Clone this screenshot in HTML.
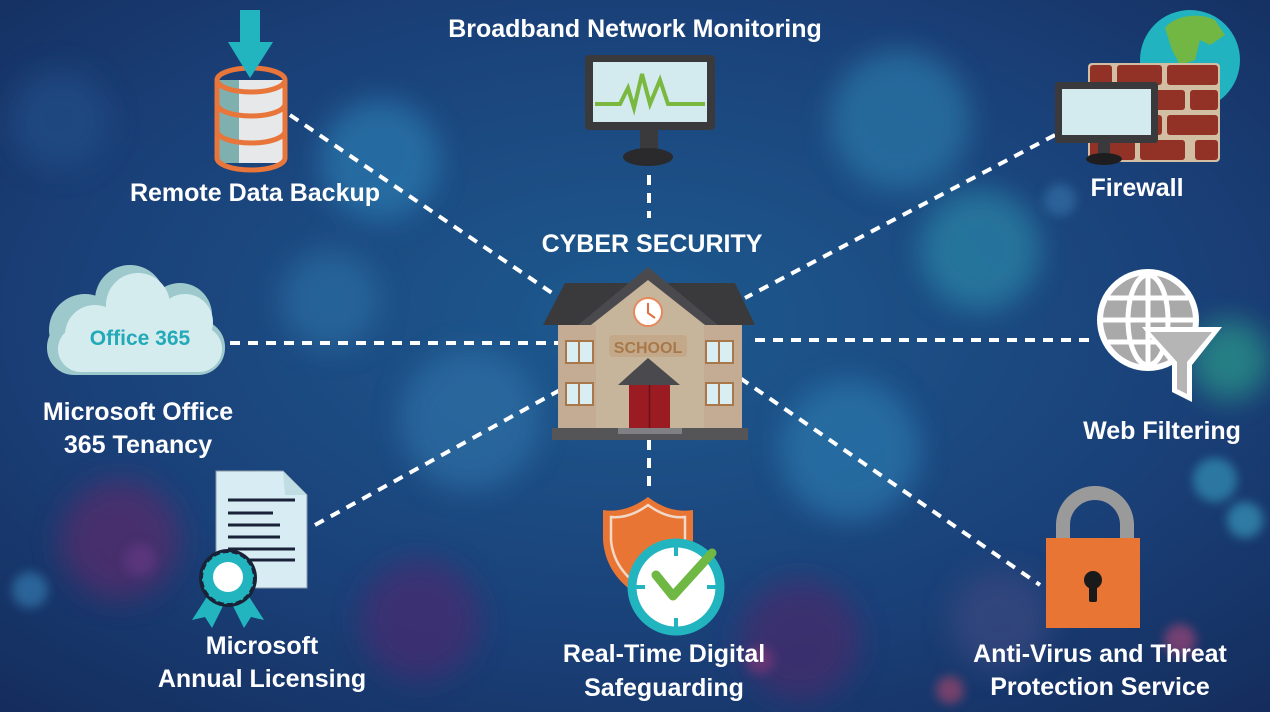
<!DOCTYPE html>
<html><head><meta charset="utf-8">
<style>
html,body{margin:0;padding:0;}
body{width:1270px;height:712px;overflow:hidden;background:#17396a;}
svg{display:block;}
text{font-family:"Liberation Sans",sans-serif;font-weight:bold;}
</style></head><body>
<svg width="1270" height="712" viewBox="0 0 1270 712" xmlns="http://www.w3.org/2000/svg">
<defs>
<radialGradient id="bg" cx="0.5" cy="0.45" r="0.75">
<stop offset="0" stop-color="#1d5a8f"/><stop offset="0.6" stop-color="#1a4078"/><stop offset="1" stop-color="#142c5c"/>
</radialGradient>
<filter id="blur" x="-50%" y="-50%" width="200%" height="200%"><feGaussianBlur stdDeviation="14"/></filter>
<filter id="blur2" x="-50%" y="-50%" width="200%" height="200%"><feGaussianBlur stdDeviation="5"/></filter>
</defs>
<rect width="1270" height="712" fill="url(#bg)"/>
<g filter="url(#blur)" opacity="0.7">
<circle cx="380" cy="160" r="60" fill="#2a7ab0"/>
<circle cx="900" cy="120" r="70" fill="#2a78a8"/>
<circle cx="470" cy="420" r="70" fill="#2e6fa6"/>
<circle cx="850" cy="450" r="70" fill="#2b78ad"/>
<circle cx="980" cy="250" r="60" fill="#2b86a8"/>
<circle cx="330" cy="300" r="50" fill="#2a6ca0"/>
<circle cx="120" cy="540" r="60" fill="#5a2a6a"/>
<circle cx="420" cy="620" r="60" fill="#4a2c70"/>
<circle cx="800" cy="640" r="60" fill="#4a2a6c"/>
<circle cx="1000" cy="620" r="50" fill="#3a4a80"/>
<circle cx="1230" cy="360" r="40" fill="#2a9a8a"/>
<circle cx="60" cy="120" r="50" fill="#244d86"/>
</g>
<g filter="url(#blur2)" opacity="0.55">
<circle cx="1215" cy="480" r="22" fill="#3aa8c8"/>
<circle cx="1245" cy="520" r="18" fill="#40b0d0"/>
<circle cx="1180" cy="640" r="16" fill="#c04a7a"/>
<circle cx="30" cy="590" r="18" fill="#3a8ac0"/>
<circle cx="140" cy="560" r="16" fill="#6a3a8a"/>
<circle cx="760" cy="660" r="14" fill="#8a3a7a"/>
<circle cx="950" cy="690" r="14" fill="#c04a6a"/>
<circle cx="1060" cy="200" r="16" fill="#3a7ab0"/>
</g>

<g stroke="#fff" stroke-width="4" stroke-dasharray="10,8" fill="none">
<line x1="290" y1="115" x2="555" y2="295"/>
<line x1="649" y1="175" x2="649" y2="218"/>
<line x1="1055" y1="135" x2="745" y2="298"/>
<line x1="230" y1="343" x2="558" y2="343"/>
<line x1="755" y1="340" x2="1095" y2="340"/>
<line x1="315" y1="525" x2="560" y2="390"/>
<line x1="740" y1="378" x2="1040" y2="585"/>
<line x1="649" y1="440" x2="649" y2="490"/>
</g>

<g fill="#fff" font-size="25" text-anchor="middle">
<text x="635" y="37">Broadband Network Monitoring</text>
<text x="255" y="201">Remote Data Backup</text>
<text x="1137" y="196">Firewall</text>
<text x="652" y="252">CYBER SECURITY</text>
<text x="138" y="420">Microsoft Office</text>
<text x="138" y="453">365 Tenancy</text>
<text x="1162" y="439">Web Filtering</text>
<text x="262" y="654">Microsoft</text>
<text x="262" y="687">Annual Licensing</text>
<text x="664" y="662">Real-Time Digital</text>
<text x="664" y="696">Safeguarding</text>
<text x="1100" y="662">Anti-Virus and Threat</text>
<text x="1100" y="695">Protection Service</text>
</g>

<rect x="585" y="55" width="130" height="75" rx="4" fill="#3a3a3c"/>
<rect x="593" y="62" width="114" height="60" fill="#d3ebef"/>
<polyline points="595,104 620,104 628,88 634,108 642,74 650,104 660,80 668,104 705,104" stroke="#7ab840" stroke-width="4" fill="none"/>
<rect x="640" y="130" width="18" height="20" fill="#3a3a3c"/>
<ellipse cx="648" cy="157" rx="25" ry="9" fill="#2a2a2c"/>

<rect x="217" y="80" width="68" height="83" fill="#e6e8ea"/>
<rect x="217" y="80" width="22" height="83" fill="#7fb0b0"/>
<g stroke="#e8753a" stroke-width="5" fill="none">
<ellipse cx="251" cy="80" rx="34" ry="12"/>
<path d="M217,80 V158 A34,12 0 0 0 285,158 V80"/>
<path d="M217,104 A34,12 0 0 0 285,104"/>
<path d="M217,131 A34,12 0 0 0 285,131"/>
</g>
<rect x="240" y="10" width="20" height="36" fill="#22b5c0"/>
<polygon points="228,42 273,42 250,78" fill="#22b5c0"/>

<circle cx="1190" cy="60" r="50" fill="#22b3c0"/>
<path d="M1165,28 C1175,15 1200,12 1215,20 L1225,35 L1210,45 L1200,40 L1195,60 L1180,65 L1172,50 Z" fill="#72b744"/>
<rect x="1088" y="63" width="132" height="99" rx="4" fill="#d2bfa3"/>
<g fill="#923226">
<rect x="1090" y="65" width="22" height="20" rx="3"/><rect x="1117" y="65" width="45" height="20" rx="3"/><rect x="1167" y="65" width="51" height="20" rx="3"/>
<rect x="1090" y="90" width="45" height="20" rx="3"/><rect x="1140" y="90" width="45" height="20" rx="3"/><rect x="1190" y="90" width="28" height="20" rx="3"/>
<rect x="1090" y="115" width="22" height="20" rx="3"/><rect x="1117" y="115" width="45" height="20" rx="3"/><rect x="1167" y="115" width="51" height="20" rx="3"/>
<rect x="1090" y="140" width="45" height="20" rx="3"/><rect x="1140" y="140" width="45" height="20" rx="3"/><rect x="1195" y="140" width="23" height="20" rx="3"/>
</g>
<rect x="1055" y="82" width="103" height="61" rx="3" fill="#3a3a3c"/>
<rect x="1062" y="89" width="89" height="46" fill="#d3ebef"/>
<rect x="1098" y="143" width="12" height="12" fill="#3a3a3c"/>
<ellipse cx="1104" cy="159" rx="18" ry="6" fill="#1e1e20"/>

<g fill="#9ec9cc">
<circle cx="130" cy="300" r="35"/><circle cx="180" cy="315" r="32"/><circle cx="85" cy="330" r="36"/><rect x="47" y="320" width="178" height="55" rx="27"/>
</g>
<g fill="#d5ecef">
<circle cx="138" cy="305" r="32"/><circle cx="185" cy="322" r="28"/><circle cx="95" cy="335" r="30"/><rect x="58" y="326" width="164" height="46" rx="23"/>
</g>
<text x="140" y="345" font-size="21" fill="#22aab8" text-anchor="middle">Office 365</text>

<polygon points="565,283 735,283 755,325 543,325" fill="#3a3a3c"/>
<rect x="558" y="325" width="184" height="103" fill="#c7b59b"/>
<rect x="558" y="325" width="38" height="103" fill="#c4ab93"/>
<rect x="704" y="325" width="38" height="103" fill="#c4ab93"/>
<polygon points="648,267 718,325 578,325" fill="#4a4a4e"/>
<polygon points="648,280 705,325 591,325" fill="#c7b59b"/>
<circle cx="648" cy="312" r="14" fill="#fff" stroke="#e6895a" stroke-width="2"/>
<path d="M648,303 V313 L655,318" stroke="#e07040" stroke-width="2" fill="none"/>
<rect x="609" y="335" width="78" height="22" rx="4" fill="#c3a98a"/>
<text x="648" y="353" font-size="16" fill="#a8784a" text-anchor="middle">SCHOOL</text>
<g fill="#d8eef2" stroke="#a8784a" stroke-width="2">
<rect x="566" y="341" width="27" height="22"/><rect x="706" y="341" width="27" height="22"/>
<rect x="566" y="383" width="27" height="22"/><rect x="706" y="383" width="27" height="22"/>
</g>
<g stroke="#a8784a" stroke-width="2"><line x1="579" y1="341" x2="579" y2="363"/><line x1="719" y1="341" x2="719" y2="363"/><line x1="579" y1="383" x2="579" y2="405"/><line x1="719" y1="383" x2="719" y2="405"/></g>
<rect x="629" y="383" width="41" height="45" fill="#9a1b22"/>
<line x1="649.5" y1="383" x2="649.5" y2="428" stroke="#6a1016" stroke-width="1.5"/>
<polygon points="648,358 680,385 618,385" fill="#4a4a4e"/>
<rect x="552" y="428" width="196" height="12" fill="#555558"/>
<rect x="618" y="428" width="64" height="6" fill="#808084"/>

<circle cx="1148" cy="320" r="51" fill="#fff"/>
<circle cx="1148" cy="320" r="45" fill="#a9a9a9"/>
<g stroke="#fff" stroke-width="5" fill="none">
<ellipse cx="1148" cy="320" rx="20" ry="45"/>
<line x1="1148" y1="275" x2="1148" y2="365"/>
<line x1="1103" y1="320" x2="1193" y2="320"/>
<line x1="1108" y1="298" x2="1188" y2="298"/>
<line x1="1108" y1="342" x2="1188" y2="342"/>
</g>
<polygon points="1142,327 1222,327 1192,365 1192,402 1172,392 1172,365" fill="#fff"/>
<polygon points="1150,332 1212,332 1187,362 1187,394 1177,389 1177,362" fill="#b5b5b5"/>

<polygon points="216,471 283,471 307,495 307,588 216,588" fill="#d7ecf3" stroke="#8a9aa8" stroke-width="1"/>
<polygon points="283,471 307,495 285,495" fill="#c0dde3"/>
<g stroke="#1a2238" stroke-width="3">
<line x1="228" y1="500" x2="295" y2="500"/><line x1="228" y1="513" x2="273" y2="513"/>
<line x1="228" y1="525" x2="280" y2="525"/><line x1="228" y1="537" x2="280" y2="537"/>
<line x1="228" y1="549" x2="295" y2="549"/><line x1="228" y1="560" x2="295" y2="560"/>
</g>
<polygon points="208,595 192,620 205,617 212,628 226,600" fill="#22b5c0"/>
<polygon points="248,595 264,620 251,617 244,628 230,600" fill="#22b5c0"/>
<circle cx="228" cy="578" r="29" fill="#1a2238"/>
<circle cx="228" cy="578" r="26" fill="#22b5c0" stroke="#1a2238" stroke-width="2" stroke-dasharray="6,3"/>
<circle cx="228" cy="577" r="15" fill="#fff"/>

<path d="M648,497 C630,510 615,512 603,510 L603,540 C605,570 625,590 648,600 C670,590 690,570 693,540 L693,510 C680,512 665,510 648,497 Z" fill="#e87533"/>
<path d="M648,505 C633,516 620,518 611,517 L611,540 C613,565 630,582 648,591 C666,582 683,565 685,540 L685,517 C676,518 663,516 648,505 Z" fill="none" stroke="#f1d8c8" stroke-width="2.5"/>
<circle cx="676" cy="587" r="44" fill="#fff" stroke="#22b5c0" stroke-width="9"/>
<g stroke="#22b5c0" stroke-width="4">
<line x1="676" y1="546" x2="676" y2="556"/><line x1="676" y1="618" x2="676" y2="628"/>
<line x1="635" y1="587" x2="645" y2="587"/><line x1="707" y1="587" x2="717" y2="587"/>
</g>
<polyline points="656,575 673,596 712,553" stroke="#6eb843" stroke-width="9" stroke-linecap="round" stroke-linejoin="round" fill="none"/>

<path d="M1063,545 V525 A32,32 0 0 1 1127,525 V545" stroke="#9a9a9a" stroke-width="14" fill="none"/>
<rect x="1046" y="538" width="94" height="90" fill="#e87533"/>
<circle cx="1093" cy="580" r="9" fill="#1a1a1a"/>
<rect x="1089" y="582" width="8" height="20" rx="2" fill="#1a1a1a"/>
</svg>
</body></html>
